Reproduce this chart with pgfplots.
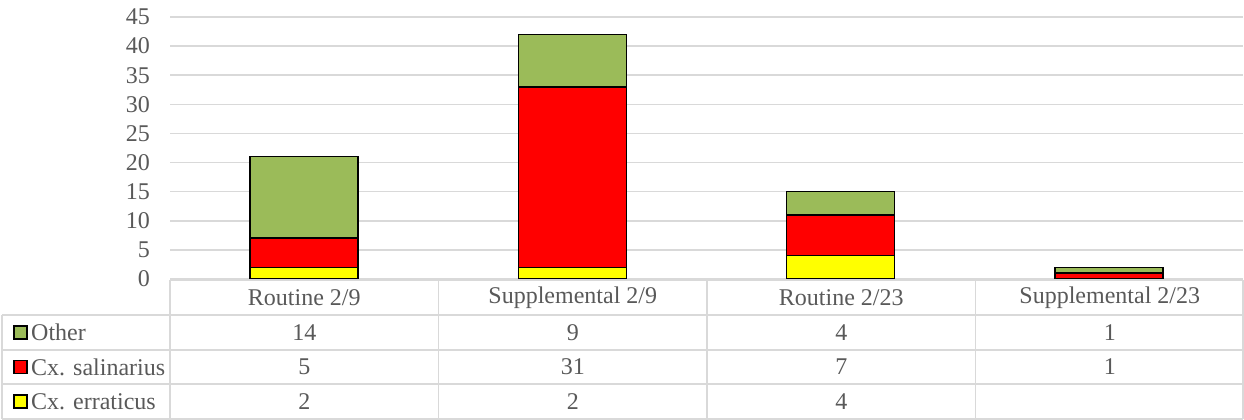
\documentclass[border=0pt]{standalone}
\usepackage{fontspec}
\setmainfont{Liberation Serif}
\usepackage{pgfplots}
\pgfplotsset{compat=1.18}
\definecolor{cgreen}{HTML}{9BBB59}
\definecolor{cred}{HTML}{FF0000}
\definecolor{cyellow}{HTML}{FFFF00}
\definecolor{cgrid}{HTML}{D9D9D9}
\definecolor{ctext}{HTML}{595959}
\begin{document}
\begin{tikzpicture}[x=1pt,y=1pt]
\path[use as bounding box] (0,0) rectangle (1244,420);
\begin{axis}[at={(170pt,141pt)}, anchor=south west,
  width=1073pt, height=262pt, scale only axis,
  ymin=0, ymax=45, ytick={0,5,...,45},
  xmin=-0.5, xmax=3.5, xtick=\empty,
  ybar stacked, bar width=108pt,
  ymajorgrids, major grid style={cgrid, line width=1.5pt},
  axis line style={draw=none}, major tick length=0pt,
  /pgf/number format/assume math mode=true,
  yticklabel style={font=\fontsize{24}{28}\selectfont, text=ctext, anchor=east, inner sep=0pt, xshift=-20pt},
  every axis plot/.append style={draw=black, line width=1.5pt},
  clip=false]
\addplot[fill=cyellow] coordinates {(0,2) (1,2) (2,4) (3,0)};
\addplot[fill=cred] coordinates {(0,5) (1,31) (2,7) (3,1)};
\addplot[fill=cgreen] coordinates {(0,14) (1,9) (2,4) (3,1)};
\end{axis}
% data table
\begin{scope}[cgrid, line width=1.5pt]
\draw (170,140) -- (1243,140);
\foreach \y in {105,70,36,1} \draw (2,\y) -- (1243,\y);
\draw (2,1) -- (2,105);
\foreach \x in {170,438.5,707,975.5,1243} \draw (\x,1) -- (\x,140);
\end{scope}
\begin{scope}[every node/.style={text=ctext, font=\fontsize{24}{28}\selectfont, inner sep=0pt}]
\node at (304.25,122.5) {Routine 2/9};
\node at (572.75,122.5) {Supplemental 2/9};
\node at (841.25,122.5) {Routine 2/23};
\node at (1109.75,122.5) {Supplemental 2/23};
\node at (304.25,87.5) {14};
\node at (572.75,87.5) {9};
\node at (841.25,87.5) {4};
\node at (1109.75,87.5) {1};
\node at (304.25,53) {5};
\node at (572.75,53) {31};
\node at (841.25,53) {7};
\node at (1109.75,53) {1};
\node at (304.25,18.5) {2};
\node at (572.75,18.5) {2};
\node at (841.25,18.5) {4};
\node[anchor=west] at (31,87.5) {Other};
\node[anchor=west] at (31,53) {Cx. salinarius};
\node[anchor=west] at (31,18.5) {Cx. erraticus};
\end{scope}
\draw[black, line width=1.2pt, fill=cgreen] (14,81) rectangle (27,94);
\draw[black, line width=1.2pt, fill=cred] (14,46.5) rectangle (27,59.5);
\draw[black, line width=1.2pt, fill=cyellow] (14,12) rectangle (27,25);
\end{tikzpicture}
\end{document}
